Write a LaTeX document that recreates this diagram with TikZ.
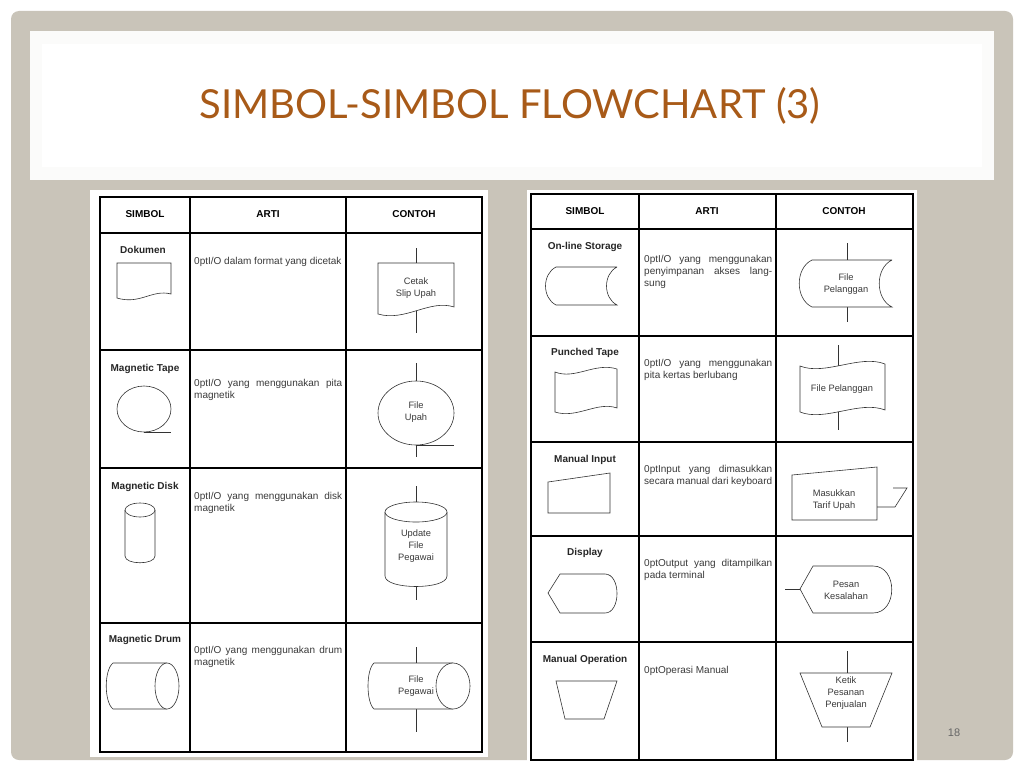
\documentclass[tikz,border=0pt]{standalone}
\usepackage{fontspec}
\setmainfont{Liberation Sans}
\newfontfamily\titlefont{Lato}
\definecolor{bgframe}{HTML}{C9C4B9}
\definecolor{titlecol}{HTML}{A85A18}
\definecolor{txt}{HTML}{3A3A3A}
\begin{document}
\begin{tikzpicture}[x=1pt,y=-1pt,
  grid/.style={line width=1.4pt,black},
  shp/.style={draw=black!80,line width=0.6pt,fill=white},
  conn/.style={draw=black!80,line width=0.6pt},
  hdr/.style={font=\bfseries\fontsize{10}{11}\selectfont,text=black},
  lbl/.style={font=\bfseries\fontsize{10}{11}\selectfont,text=black!85},
  arti/.style={font=\fontsize{10}{12}\selectfont\hyphenpenalty=10000\exhyphenpenalty=10000,text=txt,anchor=north west,align=justify,inner sep=0pt},
  ex/.style={font=\fontsize{9.3}{12}\selectfont,text=txt,align=center}]
\useasboundingbox (0,0) rectangle (1024,768);
\fill[white] (0,0) rectangle (1024,768);
\fill[bgframe,rounded corners=8pt] (11,11) rectangle (1013,760);
\fill[white!93!bgframe] (30,31) rectangle (994,180);
\fill[white] (42,44) rectangle (982,167);
\node[font=\titlefont\fontsize{40}{44}\selectfont,text=titlecol] (title) at (510,106) {SIMBOL-SIMBOL FLOWCHART (3)};
\node[font=\fontsize{11}{13}\selectfont,text=black!60] (pg) at (954,733) {18};

% ===== Left table =====
\fill[white] (90,190) rectangle (488,757);
\draw[grid] (100,197) rectangle (482,752);
\foreach \x in {190,346} \draw[grid] (\x,197)--(\x,752);
\foreach \y in {233,350,468,623} \draw[grid] (100,\y)--(482,\y);
\node[hdr] (lh1) at (145,214) {SIMBOL};
\node[hdr] (lh2) at (268,214) {ARTI};
\node[hdr] (lh3) at (414,214) {CONTOH};

% Dokumen
\node[lbl] (l1) at (143,250) {Dokumen};
\draw[shp] (117,263)--(171,263)--(171,294) .. controls (152,289) and (140,305) .. (117,298) -- cycle;
\node[arti,text width=148pt] (a1) at (194,257) {I/O dalam format yang dicetak};
\coordinate (d1t) at (416,248); \coordinate (d1b) at (416,333);
\draw[conn] (d1t)--(d1b);
\draw[shp] (378,263)--(454,263)--(454,307) .. controls (430,299) and (405,322) .. (378,314) -- cycle;
\node[ex] (e1) at (416,288) {Cetak\\Slip Upah};

% Magnetic tape
\node[lbl] (l2) at (145,369) {Magnetic Tape};
\draw[shp] (144,409) ellipse [x radius=27,y radius=23];
\draw[conn] (144,432)--(171,432);
\node[arti,text width=148pt] (a2) at (194,379) {I/O yang menggunakan pita magnetik};
\draw[conn] (416,363)--(416,457);
\draw[shp] (416,413) ellipse [x radius=38,y radius=32];
\draw[conn] (416,445)--(454,445);
\node[ex] (e2t) at (416,412) {File\\Upah};

% Magnetic disk
\node[lbl] (l3) at (145,487) {Magnetic Disk};
\draw[shp] (125,510)--(125,556) .. controls (125,565) and (155,565) .. (155,556) -- (155,510);
\draw[shp] (140,510) ellipse [x radius=15,y radius=7];
\node[arti,text width=148pt] (a3) at (194,492) {I/O yang menggunakan disk magnetik};
\draw[conn] (416,486)--(416,600);
\draw[shp] (385,512)--(385,576) .. controls (385,590) and (447,590) .. (447,576) -- (447,512);
\draw[shp] (416,512) ellipse [x radius=31,y radius=10];
\node[ex] (e3) at (416,546) {Update\\File\\Pegawai};

% Magnetic drum
\node[lbl] (l4) at (145,640) {Magnetic Drum};
\draw[shp] (167,663)--(113,663) .. controls (104,670) and (104,702) .. (113,709) -- (167,709);
\draw[shp] (167,686) ellipse [x radius=12,y radius=23];
\node[arti,text width=148pt] (a4) at (194,646) {I/O yang menggunakan drum magnetik};
\draw[conn] (416,647)--(416,732);
\draw[shp] (453,663)--(374,663) .. controls (366,670) and (366,702) .. (374,709) -- (453,709);
\draw[shp] (453,686) ellipse [x radius=17,y radius=23];
\node[ex] (e4) at (416,686) {File\\Pegawai};

% ===== Right table =====
\fill[white] (527,190) rectangle (917,764);
\draw[grid] (531,194) rectangle (913,760);
\foreach \x in {639,776} \draw[grid] (\x,194)--(\x,760);
\foreach \y in {229,336,442,536,642} \draw[grid] (531,\y)--(913,\y);
\node[hdr] (rh1) at (585,211) {SIMBOL};
\node[hdr] (rh2) at (707,211) {ARTI};
\node[hdr] (rh3) at (844,211) {CONTOH};

% On-line storage
\node[lbl] (r1) at (585,247) {On-line Storage};
\draw[shp] (617,267)--(556,267) .. controls (542,274) and (542,298) .. (556,305) -- (617,305) .. controls (603,298) and (603,274) .. (617,267);
\node[arti,text width=128pt] (b1) at (644,255) {I/O yang menggunakan penyimpanan akses langsung};
\draw[conn] (847,243)--(847,322);
\draw[shp] (892,260)--(812,260) .. controls (795,268) and (795,299) .. (812,307) -- (892,307) .. controls (875,299) and (875,268) .. (892,260);
\node[ex] (f1) at (846,284) {File\\Pelanggan};

% Punched tape
\node[lbl] (r2) at (585,353) {Punched Tape};
\draw[shp] (555,372) .. controls (575,380) and (595,362) .. (617,369) -- (617,408) .. controls (597,401) and (577,419) .. (555,412) -- cycle;
\node[arti,text width=128pt] (b2) at (644,359) {I/O yang menggunakan pita kertas berlubang};
\draw[conn] (838,345)--(838,430);
\draw[shp] (800,366) .. controls (825,376) and (860,354) .. (885,364) -- (885,410) .. controls (860,400) and (825,422) .. (800,412) -- cycle;
\node[ex] (f2) at (842,389) {File Pelanggan};

% Manual input
\node[lbl] (r3) at (585,460) {Manual Input};
\draw[shp] (548,482)--(610,473)--(610,513)--(548,513)--cycle;
\node[arti,text width=128pt] (b3) at (644,465) {Input yang dimasukkan secara manual dari keyboard};
\draw[shp] (792,475)--(877,467)--(877,520)--(792,520)--cycle;
\draw[conn] (877,507)--(895,507)--(907,488)--(893,488);
\node[ex] (f3) at (834,500) {Masukkan\\Tarif Upah};

% Display
\node[lbl] (r4) at (585,553) {Display};
\draw[shp] (548,593)--(560,574)--(605,574) .. controls (621,574) and (621,613) .. (605,613) -- (560,613) -- cycle;
\node[arti,text width=128pt] (b4) at (644,559) {Output yang ditampilkan pada terminal};
\draw[conn] (785,589)--(800,589);
\draw[shp] (800,589)--(813,566)--(873,566) .. controls (898,566) and (898,613) .. (873,613) -- (813,613) -- cycle;
\node[ex] (f4) at (846,590) {Pesan\\Kesalahan};

% Manual operation
\node[lbl] (r5) at (585,660) {Manual Operation};
\draw[shp] (556,681)--(617,681)--(604,719)--(565,719)--cycle;
\node[arti,text width=128pt] (b5) at (644,666) {Operasi Manual};
\draw[conn] (847,651)--(847,742);
\draw[shp] (800,673)--(892,673)--(870,727)--(822,727)--cycle;
\node[ex] (f5) at (846,693) {Ketik\\Pesanan\\Penjualan};
\end{tikzpicture}
\end{document}
